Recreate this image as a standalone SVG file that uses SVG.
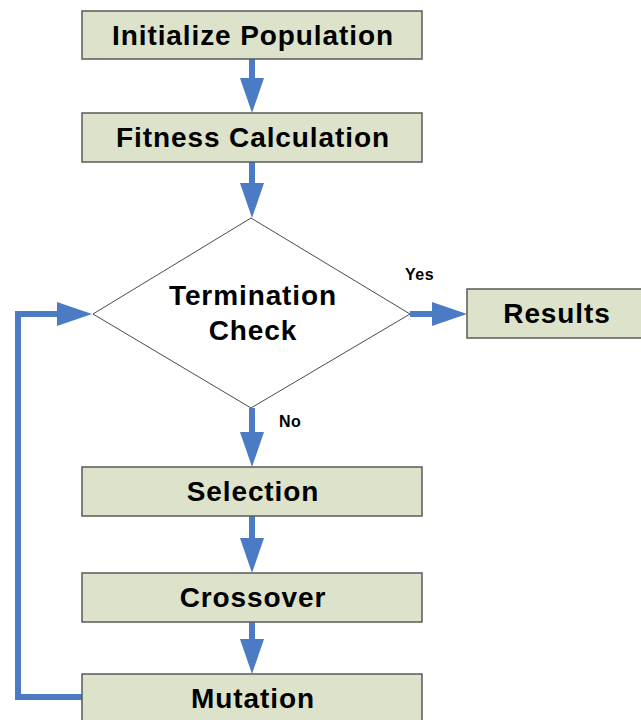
<svg xmlns="http://www.w3.org/2000/svg" width="641" height="720" viewBox="0 0 641 720">
<defs>
<style>
.box{fill:#dde2cb;stroke:#5a5a5a;stroke-width:1.5}
.dia{fill:#ffffff;stroke:#4a4a4a;stroke-width:1}
.t{font-family:"Liberation Sans",Arial,sans-serif;font-weight:bold;font-size:28px;letter-spacing:0.9px;fill:#000;text-anchor:middle}
.s{font-family:"Liberation Sans",Arial,sans-serif;font-weight:bold;font-size:16px;letter-spacing:0.5px;fill:#000}
.c{fill:none;stroke:#4a7bc4;stroke-width:6}
.h{fill:#4a7bc4}
</style>
</defs>
<rect width="641" height="720" fill="#ffffff"/>
<g id="connectors">
<path class="c" d="M252,59 L252,87"/>
<path class="h" d="M240,78 L264,78 L252,113 z"/>
<path class="c" d="M252,162 L252,190"/>
<path class="h" d="M240,183 L264,183 L252,218 z"/>
<path class="c" d="M410,314 L440,314"/>
<path class="h" d="M432,302 L432,326 L467,314 z"/>
<path class="c" d="M252,408 L252,440"/>
<path class="h" d="M240,432 L264,432 L252,467 z"/>
<path class="c" d="M252,516 L252,545"/>
<path class="h" d="M240,538 L264,538 L252,573 z"/>
<path class="c" d="M252,622 L252,645"/>
<path class="h" d="M240,639 L264,639 L252,674 z"/>
<path class="c" d="M82,697 L18,697 L18,314 L64,314"/>
<path class="h" d="M57,302 L57,326 L92,314 z"/>
<text class="s" x="405" y="280">Yes</text>
<text class="s" x="279" y="427">No</text>
</g>
<g id="init">
<rect class="box" x="82" y="11" width="340" height="48"/>
<text class="t" x="253" y="45">Initialize Population</text>
</g>
<g id="fitness">
<rect class="box" x="82" y="113" width="340" height="49"/>
<text class="t" x="253" y="147">Fitness Calculation</text>
</g>
<g id="termination">
<path class="dia" d="M251,218 L410,314 L251,408 L93,314 z"/>
<text class="t" x="253" y="305">Termination</text>
<text class="t" x="253" y="340">Check</text>
</g>
<g id="results">
<rect class="box" x="467" y="289" width="180" height="49"/>
<text class="t" x="557" y="323">Results</text>
</g>
<g id="selection">
<rect class="box" x="82" y="467" width="340" height="49"/>
<text class="t" x="253" y="501">Selection</text>
</g>
<g id="crossover">
<rect class="box" x="82" y="573" width="340" height="49"/>
<text class="t" x="253" y="607">Crossover</text>
</g>
<g id="mutation">
<rect class="box" x="82" y="674" width="340" height="49"/>
<text class="t" x="253" y="708">Mutation</text>
</g>
</svg>
